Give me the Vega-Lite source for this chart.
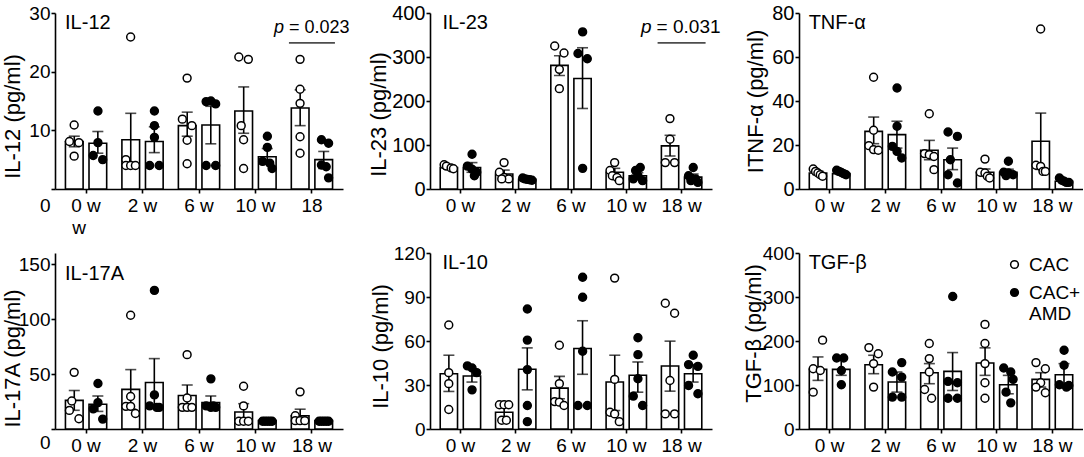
{
  "$schema": "https://vega.github.io/schema/vega-lite/v6.json",
  "background": "white",
  "padding": {"left": 1, "top": 3, "right": 0, "bottom": 0},
  "config": {
    "font": "Liberation Sans",
    "view": {"stroke": null},
    "axis": {"grid": false, "domainColor": "black", "domainWidth": 1.6, "tickColor": "black", "tickWidth": 1.6, "tickSize": 4,
      "labelColor": "black", "labelFontSize": 19, "titleFontSize": 22, "titleFontWeight": "normal", "titleColor": "black"},
    "axisX": {"labelAngle": 0, "labelPadding": 3},
    "axisY": {"labelPadding": 1},
    "text": {"color": "black"}
  },
  "datasets": {
    "bars": [
      {"p":"IL-12","w":"0 w","g":"CAC","m":8.1,"lo":7.2,"hi":9.0},
      {"p":"IL-12","w":"0 w","g":"CAC+AMD","m":7.8,"lo":6.1,"hi":9.8},
      {"p":"IL-12","w":"2 w","g":"CAC","m":8.4,"lo":4.0,"hi":12.9},
      {"p":"IL-12","w":"2 w","g":"CAC+AMD","m":8.1,"lo":6.2,"hi":10.6},
      {"p":"IL-12","w":"6 w","g":"CAC","m":10.8,"lo":9.0,"hi":13.1},
      {"p":"IL-12","w":"6 w","g":"CAC+AMD","m":10.9,"lo":7.7,"hi":14.1},
      {"p":"IL-12","w":"10 w","g":"CAC","m":13.3,"lo":9.5,"hi":17.4},
      {"p":"IL-12","w":"10 w","g":"CAC+AMD","m":5.5,"lo":4.5,"hi":6.9},
      {"p":"IL-12","w":"18 w","g":"CAC","m":13.8,"lo":10.8,"hi":16.9},
      {"p":"IL-12","w":"18 w","g":"CAC+AMD","m":5.0,"lo":3.5,"hi":6.4},
      {"p":"IL-23","w":"0 w","g":"CAC","m":49,"lo":45,"hi":53},
      {"p":"IL-23","w":"0 w","g":"CAC+AMD","m":49,"lo":38,"hi":60},
      {"p":"IL-23","w":"2 w","g":"CAC","m":34,"lo":25,"hi":43},
      {"p":"IL-23","w":"2 w","g":"CAC+AMD","m":22,"lo":20,"hi":24},
      {"p":"IL-23","w":"6 w","g":"CAC","m":281,"lo":258,"hi":303},
      {"p":"IL-23","w":"6 w","g":"CAC+AMD","m":251,"lo":183,"hi":321},
      {"p":"IL-23","w":"10 w","g":"CAC","m":38,"lo":27,"hi":47},
      {"p":"IL-23","w":"10 w","g":"CAC+AMD","m":30,"lo":22,"hi":37},
      {"p":"IL-23","w":"18 w","g":"CAC","m":98,"lo":75,"hi":122},
      {"p":"IL-23","w":"18 w","g":"CAC+AMD","m":27,"lo":20,"hi":34},
      {"p":"TNF","w":"0 w","g":"CAC","m":7.3,"lo":6.5,"hi":8.1},
      {"p":"TNF","w":"0 w","g":"CAC+AMD","m":7.0,"lo":6.5,"hi":7.5},
      {"p":"TNF","w":"2 w","g":"CAC","m":26.2,"lo":20.6,"hi":32.7},
      {"p":"TNF","w":"2 w","g":"CAC+AMD","m":24.7,"lo":18.6,"hi":30.8},
      {"p":"TNF","w":"6 w","g":"CAC","m":17.6,"lo":13.3,"hi":22.1},
      {"p":"TNF","w":"6 w","g":"CAC+AMD","m":13.3,"lo":8.8,"hi":18.6},
      {"p":"TNF","w":"10 w","g":"CAC","m":7.6,"lo":5.8,"hi":9.1},
      {"p":"TNF","w":"10 w","g":"CAC+AMD","m":7.6,"lo":6.3,"hi":9.0},
      {"p":"TNF","w":"18 w","g":"CAC","m":21.7,"lo":8.9,"hi":34.5},
      {"p":"TNF","w":"18 w","g":"CAC+AMD","m":3.5,"lo":3.0,"hi":4.0},
      {"p":"IL-17A","w":"0 w","g":"CAC","m":26,"lo":17,"hi":35},
      {"p":"IL-17A","w":"0 w","g":"CAC+AMD","m":22.5,"lo":16,"hi":30},
      {"p":"IL-17A","w":"2 w","g":"CAC","m":36,"lo":18,"hi":54},
      {"p":"IL-17A","w":"2 w","g":"CAC+AMD","m":42.3,"lo":20,"hi":64},
      {"p":"IL-17A","w":"6 w","g":"CAC","m":30.4,"lo":21,"hi":40},
      {"p":"IL-17A","w":"6 w","g":"CAC+AMD","m":24,"lo":18,"hi":30},
      {"p":"IL-17A","w":"10 w","g":"CAC","m":15.5,"lo":8,"hi":23},
      {"p":"IL-17A","w":"10 w","g":"CAC+AMD","m":7.6,"lo":7.2,"hi":8.0},
      {"p":"IL-17A","w":"18 w","g":"CAC","m":12,"lo":6,"hi":18},
      {"p":"IL-17A","w":"18 w","g":"CAC+AMD","m":7.6,"lo":7.2,"hi":8.0},
      {"p":"IL-10","w":"0 w","g":"CAC","m":37.7,"lo":25.6,"hi":50.3},
      {"p":"IL-10","w":"0 w","g":"CAC+AMD","m":36.1,"lo":32,"hi":41},
      {"p":"IL-10","w":"2 w","g":"CAC","m":11.4,"lo":5.7,"hi":17},
      {"p":"IL-10","w":"2 w","g":"CAC+AMD","m":40.7,"lo":26.7,"hi":55.3},
      {"p":"IL-10","w":"6 w","g":"CAC","m":27.9,"lo":20.6,"hi":35.9},
      {"p":"IL-10","w":"6 w","g":"CAC+AMD","m":54.9,"lo":37.3,"hi":73.8},
      {"p":"IL-10","w":"10 w","g":"CAC","m":32,"lo":12.6,"hi":50.3},
      {"p":"IL-10","w":"10 w","g":"CAC+AMD","m":36.6,"lo":25.1,"hi":45.7},
      {"p":"IL-10","w":"18 w","g":"CAC","m":43,"lo":25.8,"hi":59.9},
      {"p":"IL-10","w":"18 w","g":"CAC+AMD","m":37.7,"lo":32,"hi":43.9},
      {"p":"TGF","w":"0 w","g":"CAC","m":135.6,"lo":110.5,"hi":163.8},
      {"p":"TGF","w":"0 w","g":"CAC+AMD","m":135.6,"lo":122,"hi":160},
      {"p":"TGF","w":"2 w","g":"CAC","m":146,"lo":125.7,"hi":167.6},
      {"p":"TGF","w":"2 w","g":"CAC+AMD","m":106.7,"lo":83.8,"hi":129.5},
      {"p":"TGF","w":"6 w","g":"CAC","m":128,"lo":102.9,"hi":148.6},
      {"p":"TGF","w":"6 w","g":"CAC+AMD","m":131,"lo":87.6,"hi":173.7},
      {"p":"TGF","w":"10 w","g":"CAC","m":150,"lo":121.9,"hi":184.4},
      {"p":"TGF","w":"10 w","g":"CAC+AMD","m":100.6,"lo":80,"hi":121.9},
      {"p":"TGF","w":"18 w","g":"CAC","m":112.8,"lo":95.2,"hi":128},
      {"p":"TGF","w":"18 w","g":"CAC+AMD","m":123.4,"lo":105,"hi":148.6}
    ],
    "pts": [
      {"p":"IL-12","w":"0 w","g":"CAC","r":"c3","v":10.9},{"p":"IL-12","w":"0 w","g":"CAC","r":"c1","v":8.1},{"p":"IL-12","w":"0 w","g":"CAC","r":"c5","v":7.9},{"p":"IL-12","w":"0 w","g":"CAC","r":"c3","v":5.6},
      {"p":"IL-12","w":"0 w","g":"CAC+AMD","r":"a3","v":13.3},{"p":"IL-12","w":"0 w","g":"CAC+AMD","r":"a3","v":7.9},{"p":"IL-12","w":"0 w","g":"CAC+AMD","r":"a1","v":5.7},{"p":"IL-12","w":"0 w","g":"CAC+AMD","r":"a5","v":5.0},
      {"p":"IL-12","w":"2 w","g":"CAC","r":"c3","v":25.9},{"p":"IL-12","w":"2 w","g":"CAC","r":"c1","v":5.0},{"p":"IL-12","w":"2 w","g":"CAC","r":"c1","v":4.0},{"p":"IL-12","w":"2 w","g":"CAC","r":"c3","v":4.0},{"p":"IL-12","w":"2 w","g":"CAC","r":"c5","v":4.0},
      {"p":"IL-12","w":"2 w","g":"CAC+AMD","r":"a3","v":13.3},{"p":"IL-12","w":"2 w","g":"CAC+AMD","r":"a3","v":10.8},{"p":"IL-12","w":"2 w","g":"CAC+AMD","r":"a3","v":8.8},{"p":"IL-12","w":"2 w","g":"CAC+AMD","r":"a1","v":4.0},{"p":"IL-12","w":"2 w","g":"CAC+AMD","r":"a5","v":4.0},
      {"p":"IL-12","w":"6 w","g":"CAC","r":"c3","v":18.9},{"p":"IL-12","w":"6 w","g":"CAC","r":"c1","v":11.9},{"p":"IL-12","w":"6 w","g":"CAC","r":"c5","v":10.8},{"p":"IL-12","w":"6 w","g":"CAC","r":"c3","v":8.3},{"p":"IL-12","w":"6 w","g":"CAC","r":"c3","v":4.3},
      {"p":"IL-12","w":"6 w","g":"CAC+AMD","r":"a1","v":14.9},{"p":"IL-12","w":"6 w","g":"CAC+AMD","r":"a3","v":15.0},{"p":"IL-12","w":"6 w","g":"CAC+AMD","r":"a5","v":14.5},{"p":"IL-12","w":"6 w","g":"CAC+AMD","r":"a1","v":4.0},{"p":"IL-12","w":"6 w","g":"CAC+AMD","r":"a5","v":4.0},
      {"p":"IL-12","w":"10 w","g":"CAC","r":"c1","v":22.5},{"p":"IL-12","w":"10 w","g":"CAC","r":"c5","v":22.1},{"p":"IL-12","w":"10 w","g":"CAC","r":"c2","v":10.8},{"p":"IL-12","w":"10 w","g":"CAC","r":"c3","v":8.4},{"p":"IL-12","w":"10 w","g":"CAC","r":"c3","v":3.5},
      {"p":"IL-12","w":"10 w","g":"CAC+AMD","r":"a3","v":9.0},{"p":"IL-12","w":"10 w","g":"CAC+AMD","r":"a3","v":7.1},{"p":"IL-12","w":"10 w","g":"CAC+AMD","r":"a1","v":4.7},{"p":"IL-12","w":"10 w","g":"CAC+AMD","r":"a4","v":4.4},{"p":"IL-12","w":"10 w","g":"CAC+AMD","r":"a5","v":3.5},
      {"p":"IL-12","w":"18 w","g":"CAC","r":"c3","v":22.1},{"p":"IL-12","w":"18 w","g":"CAC","r":"c3","v":17.0},{"p":"IL-12","w":"18 w","g":"CAC","r":"c3","v":14.6},{"p":"IL-12","w":"18 w","g":"CAC","r":"c3","v":8.9},{"p":"IL-12","w":"18 w","g":"CAC","r":"c3","v":6.1},
      {"p":"IL-12","w":"18 w","g":"CAC+AMD","r":"a2","v":8.4},{"p":"IL-12","w":"18 w","g":"CAC+AMD","r":"a5","v":7.8},{"p":"IL-12","w":"18 w","g":"CAC+AMD","r":"a2","v":4.1},{"p":"IL-12","w":"18 w","g":"CAC+AMD","r":"a4","v":3.8},{"p":"IL-12","w":"18 w","g":"CAC+AMD","r":"a5","v":1.9},

      {"p":"IL-23","w":"0 w","g":"CAC","r":"c1","v":55},{"p":"IL-23","w":"0 w","g":"CAC","r":"c2","v":52},{"p":"IL-23","w":"0 w","g":"CAC","r":"c4","v":48},{"p":"IL-23","w":"0 w","g":"CAC","r":"c5","v":46},
      {"p":"IL-23","w":"0 w","g":"CAC+AMD","r":"a3","v":79},{"p":"IL-23","w":"0 w","g":"CAC+AMD","r":"a1","v":52},{"p":"IL-23","w":"0 w","g":"CAC+AMD","r":"a3","v":45},{"p":"IL-23","w":"0 w","g":"CAC+AMD","r":"a5","v":38},{"p":"IL-23","w":"0 w","g":"CAC+AMD","r":"a4","v":30},
      {"p":"IL-23","w":"2 w","g":"CAC","r":"c3","v":60},{"p":"IL-23","w":"2 w","g":"CAC","r":"c1","v":38},{"p":"IL-23","w":"2 w","g":"CAC","r":"c3","v":26},{"p":"IL-23","w":"2 w","g":"CAC","r":"c5","v":23},{"p":"IL-23","w":"2 w","g":"CAC","r":"c2","v":23},
      {"p":"IL-23","w":"2 w","g":"CAC+AMD","r":"a1","v":25},{"p":"IL-23","w":"2 w","g":"CAC+AMD","r":"a2","v":23},{"p":"IL-23","w":"2 w","g":"CAC+AMD","r":"a3","v":22},{"p":"IL-23","w":"2 w","g":"CAC+AMD","r":"a4","v":21},{"p":"IL-23","w":"2 w","g":"CAC+AMD","r":"a5","v":20},
      {"p":"IL-23","w":"6 w","g":"CAC","r":"c1","v":325},{"p":"IL-23","w":"6 w","g":"CAC","r":"c5","v":309},{"p":"IL-23","w":"6 w","g":"CAC","r":"c3","v":272},{"p":"IL-23","w":"6 w","g":"CAC","r":"c3","v":228},
      {"p":"IL-23","w":"6 w","g":"CAC+AMD","r":"a3","v":357},{"p":"IL-23","w":"6 w","g":"CAC+AMD","r":"a1","v":308},{"p":"IL-23","w":"6 w","g":"CAC+AMD","r":"a5","v":296},{"p":"IL-23","w":"6 w","g":"CAC+AMD","r":"a3","v":47},
      {"p":"IL-23","w":"10 w","g":"CAC","r":"c3","v":60},{"p":"IL-23","w":"10 w","g":"CAC","r":"c1","v":42},{"p":"IL-23","w":"10 w","g":"CAC","r":"c2","v":30},{"p":"IL-23","w":"10 w","g":"CAC","r":"c4","v":26},{"p":"IL-23","w":"10 w","g":"CAC","r":"c5","v":19},
      {"p":"IL-23","w":"10 w","g":"CAC+AMD","r":"a4","v":49},{"p":"IL-23","w":"10 w","g":"CAC+AMD","r":"a2","v":42},{"p":"IL-23","w":"10 w","g":"CAC+AMD","r":"a3","v":30},{"p":"IL-23","w":"10 w","g":"CAC+AMD","r":"a1","v":23},{"p":"IL-23","w":"10 w","g":"CAC+AMD","r":"a5","v":19},
      {"p":"IL-23","w":"18 w","g":"CAC","r":"c3","v":160},{"p":"IL-23","w":"18 w","g":"CAC","r":"c3","v":113},{"p":"IL-23","w":"18 w","g":"CAC","r":"c1","v":60},{"p":"IL-23","w":"18 w","g":"CAC","r":"c5","v":60},
      {"p":"IL-23","w":"18 w","g":"CAC+AMD","r":"a3","v":49},{"p":"IL-23","w":"18 w","g":"CAC+AMD","r":"a1","v":30},{"p":"IL-23","w":"18 w","g":"CAC+AMD","r":"a4","v":23},{"p":"IL-23","w":"18 w","g":"CAC+AMD","r":"a2","v":19},{"p":"IL-23","w":"18 w","g":"CAC+AMD","r":"a5","v":15},

      {"p":"TNF","w":"0 w","g":"CAC","r":"c1","v":9.1},{"p":"TNF","w":"0 w","g":"CAC","r":"c2","v":8.0},{"p":"TNF","w":"0 w","g":"CAC","r":"c3","v":7.3},{"p":"TNF","w":"0 w","g":"CAC","r":"c4","v":6.5},{"p":"TNF","w":"0 w","g":"CAC","r":"c5","v":5.8},
      {"p":"TNF","w":"0 w","g":"CAC+AMD","r":"a1","v":8.5},{"p":"TNF","w":"0 w","g":"CAC+AMD","r":"a2","v":8.0},{"p":"TNF","w":"0 w","g":"CAC+AMD","r":"a3","v":7.5},{"p":"TNF","w":"0 w","g":"CAC+AMD","r":"a4","v":7.0},{"p":"TNF","w":"0 w","g":"CAC+AMD","r":"a5","v":6.5},
      {"p":"TNF","w":"2 w","g":"CAC","r":"c3","v":50.8},{"p":"TNF","w":"2 w","g":"CAC","r":"c3","v":26.7},{"p":"TNF","w":"2 w","g":"CAC","r":"c1","v":19.7},{"p":"TNF","w":"2 w","g":"CAC","r":"c3","v":17.9},{"p":"TNF","w":"2 w","g":"CAC","r":"c5","v":17.6},
      {"p":"TNF","w":"2 w","g":"CAC+AMD","r":"a3","v":45.9},{"p":"TNF","w":"2 w","g":"CAC+AMD","r":"a3","v":28.5},{"p":"TNF","w":"2 w","g":"CAC+AMD","r":"a1","v":19.4},{"p":"TNF","w":"2 w","g":"CAC+AMD","r":"a3","v":17.1},{"p":"TNF","w":"2 w","g":"CAC+AMD","r":"a5","v":14.1},
      {"p":"TNF","w":"6 w","g":"CAC","r":"c3","v":34.2},{"p":"TNF","w":"6 w","g":"CAC","r":"c1","v":16.1},{"p":"TNF","w":"6 w","g":"CAC","r":"c3","v":15.6},{"p":"TNF","w":"6 w","g":"CAC","r":"c5","v":14.8},{"p":"TNF","w":"6 w","g":"CAC","r":"c5","v":8.8},
      {"p":"TNF","w":"6 w","g":"CAC+AMD","r":"a1","v":25.9},{"p":"TNF","w":"6 w","g":"CAC+AMD","r":"a5","v":23.9},{"p":"TNF","w":"6 w","g":"CAC+AMD","r":"a2","v":13.3},{"p":"TNF","w":"6 w","g":"CAC+AMD","r":"a1","v":6.5},{"p":"TNF","w":"6 w","g":"CAC+AMD","r":"a5","v":2.7},
      {"p":"TNF","w":"10 w","g":"CAC","r":"c3","v":13.6},{"p":"TNF","w":"10 w","g":"CAC","r":"c1","v":7.6},{"p":"TNF","w":"10 w","g":"CAC","r":"c3","v":7.3},{"p":"TNF","w":"10 w","g":"CAC","r":"c4","v":5.8},{"p":"TNF","w":"10 w","g":"CAC","r":"c5","v":5.0},
      {"p":"TNF","w":"10 w","g":"CAC+AMD","r":"a3","v":12.6},{"p":"TNF","w":"10 w","g":"CAC+AMD","r":"a1","v":7.6},{"p":"TNF","w":"10 w","g":"CAC+AMD","r":"a3","v":7.3},{"p":"TNF","w":"10 w","g":"CAC+AMD","r":"a5","v":6.5},{"p":"TNF","w":"10 w","g":"CAC+AMD","r":"a2","v":6.1},
      {"p":"TNF","w":"18 w","g":"CAC","r":"c3","v":72.7},{"p":"TNF","w":"18 w","g":"CAC","r":"c1","v":10.8},{"p":"TNF","w":"18 w","g":"CAC","r":"c3","v":10.3},{"p":"TNF","w":"18 w","g":"CAC","r":"c4","v":8.0},{"p":"TNF","w":"18 w","g":"CAC","r":"c5","v":8.0},
      {"p":"TNF","w":"18 w","g":"CAC+AMD","r":"a1","v":5.0},{"p":"TNF","w":"18 w","g":"CAC+AMD","r":"a2","v":4.0},{"p":"TNF","w":"18 w","g":"CAC+AMD","r":"a3","v":3.5},{"p":"TNF","w":"18 w","g":"CAC+AMD","r":"a4","v":3.0},{"p":"TNF","w":"18 w","g":"CAC+AMD","r":"a5","v":3.0},

      {"p":"IL-17A","w":"0 w","g":"CAC","r":"c3","v":51.5},{"p":"IL-17A","w":"0 w","g":"CAC","r":"c2","v":25.4},{"p":"IL-17A","w":"0 w","g":"CAC","r":"c1","v":16.9},{"p":"IL-17A","w":"0 w","g":"CAC","r":"c5","v":9.3},
      {"p":"IL-17A","w":"0 w","g":"CAC+AMD","r":"a3","v":41.4},{"p":"IL-17A","w":"0 w","g":"CAC+AMD","r":"a3","v":24},{"p":"IL-17A","w":"0 w","g":"CAC+AMD","r":"a1","v":18.3},{"p":"IL-17A","w":"0 w","g":"CAC+AMD","r":"a5","v":9},
      {"p":"IL-17A","w":"2 w","g":"CAC","r":"c3","v":103.4},{"p":"IL-17A","w":"2 w","g":"CAC","r":"c3","v":29.6},{"p":"IL-17A","w":"2 w","g":"CAC","r":"c1","v":20.6},{"p":"IL-17A","w":"2 w","g":"CAC","r":"c3","v":20.6},{"p":"IL-17A","w":"2 w","g":"CAC","r":"c5","v":14.1},
      {"p":"IL-17A","w":"2 w","g":"CAC+AMD","r":"a3","v":126},{"p":"IL-17A","w":"2 w","g":"CAC+AMD","r":"a3","v":31},{"p":"IL-17A","w":"2 w","g":"CAC+AMD","r":"a1","v":21},{"p":"IL-17A","w":"2 w","g":"CAC+AMD","r":"a4","v":19.7},{"p":"IL-17A","w":"2 w","g":"CAC+AMD","r":"a5","v":19.7},
      {"p":"IL-17A","w":"6 w","g":"CAC","r":"c3","v":67.6},{"p":"IL-17A","w":"6 w","g":"CAC","r":"c3","v":28.2},{"p":"IL-17A","w":"6 w","g":"CAC","r":"c1","v":19.7},{"p":"IL-17A","w":"6 w","g":"CAC","r":"c3","v":19.7},{"p":"IL-17A","w":"6 w","g":"CAC","r":"c5","v":19.7},
      {"p":"IL-17A","w":"6 w","g":"CAC+AMD","r":"a3","v":45.6},{"p":"IL-17A","w":"6 w","g":"CAC+AMD","r":"a1","v":21},{"p":"IL-17A","w":"6 w","g":"CAC+AMD","r":"a3","v":19.7},{"p":"IL-17A","w":"6 w","g":"CAC+AMD","r":"a5","v":19.7},{"p":"IL-17A","w":"6 w","g":"CAC+AMD","r":"a4","v":21},
      {"p":"IL-17A","w":"10 w","g":"CAC","r":"c3","v":38.9},{"p":"IL-17A","w":"10 w","g":"CAC","r":"c3","v":21},{"p":"IL-17A","w":"10 w","g":"CAC","r":"c1","v":7},{"p":"IL-17A","w":"10 w","g":"CAC","r":"c3","v":7},{"p":"IL-17A","w":"10 w","g":"CAC","r":"c5","v":7},
      {"p":"IL-17A","w":"10 w","g":"CAC+AMD","r":"a1","v":7},{"p":"IL-17A","w":"10 w","g":"CAC+AMD","r":"a2","v":7},{"p":"IL-17A","w":"10 w","g":"CAC+AMD","r":"a3","v":7},{"p":"IL-17A","w":"10 w","g":"CAC+AMD","r":"a4","v":7},{"p":"IL-17A","w":"10 w","g":"CAC+AMD","r":"a5","v":7},
      {"p":"IL-17A","w":"18 w","g":"CAC","r":"c3","v":33.8},{"p":"IL-17A","w":"18 w","g":"CAC","r":"c1","v":12},{"p":"IL-17A","w":"18 w","g":"CAC","r":"c1","v":7.6},{"p":"IL-17A","w":"18 w","g":"CAC","r":"c3","v":7.6},{"p":"IL-17A","w":"18 w","g":"CAC","r":"c5","v":7.6},
      {"p":"IL-17A","w":"18 w","g":"CAC+AMD","r":"a1","v":7},{"p":"IL-17A","w":"18 w","g":"CAC+AMD","r":"a2","v":7},{"p":"IL-17A","w":"18 w","g":"CAC+AMD","r":"a3","v":7},{"p":"IL-17A","w":"18 w","g":"CAC+AMD","r":"a4","v":7},{"p":"IL-17A","w":"18 w","g":"CAC+AMD","r":"a5","v":7},

      {"p":"IL-10","w":"0 w","g":"CAC","r":"c3","v":70.9},{"p":"IL-10","w":"0 w","g":"CAC","r":"c3","v":38.4},{"p":"IL-10","w":"0 w","g":"CAC","r":"c3","v":30.9},{"p":"IL-10","w":"0 w","g":"CAC","r":"c3","v":13.3},
      {"p":"IL-10","w":"0 w","g":"CAC+AMD","r":"a1","v":43},{"p":"IL-10","w":"0 w","g":"CAC+AMD","r":"a3","v":41.6},{"p":"IL-10","w":"0 w","g":"CAC+AMD","r":"a5","v":38.4},{"p":"IL-10","w":"0 w","g":"CAC+AMD","r":"a3","v":26.7},
      {"p":"IL-10","w":"2 w","g":"CAC","r":"c1","v":16.5},{"p":"IL-10","w":"2 w","g":"CAC","r":"c3","v":16.5},{"p":"IL-10","w":"2 w","g":"CAC","r":"c5","v":16.5},{"p":"IL-10","w":"2 w","g":"CAC","r":"c2","v":6},{"p":"IL-10","w":"2 w","g":"CAC","r":"c4","v":6},
      {"p":"IL-10","w":"2 w","g":"CAC+AMD","r":"a3","v":81.8},{"p":"IL-10","w":"2 w","g":"CAC+AMD","r":"a3","v":60.6},{"p":"IL-10","w":"2 w","g":"CAC+AMD","r":"a3","v":40.5},{"p":"IL-10","w":"2 w","g":"CAC+AMD","r":"a3","v":16},{"p":"IL-10","w":"2 w","g":"CAC+AMD","r":"a3","v":5},
      {"p":"IL-10","w":"6 w","g":"CAC","r":"c3","v":57.1},{"p":"IL-10","w":"6 w","g":"CAC","r":"c3","v":30.9},{"p":"IL-10","w":"6 w","g":"CAC","r":"c1","v":18.7},{"p":"IL-10","w":"6 w","g":"CAC","r":"c3","v":18.3},{"p":"IL-10","w":"6 w","g":"CAC","r":"c5","v":16},
      {"p":"IL-10","w":"6 w","g":"CAC+AMD","r":"a3","v":103.5},{"p":"IL-10","w":"6 w","g":"CAC+AMD","r":"a3","v":89.8},{"p":"IL-10","w":"6 w","g":"CAC+AMD","r":"a3","v":53},{"p":"IL-10","w":"6 w","g":"CAC+AMD","r":"a1","v":16},{"p":"IL-10","w":"6 w","g":"CAC+AMD","r":"a5","v":16},
      {"p":"IL-10","w":"10 w","g":"CAC","r":"c3","v":102.9},{"p":"IL-10","w":"10 w","g":"CAC","r":"c3","v":33.8},{"p":"IL-10","w":"10 w","g":"CAC","r":"c1","v":11.4},{"p":"IL-10","w":"10 w","g":"CAC","r":"c3","v":10.3},{"p":"IL-10","w":"10 w","g":"CAC","r":"c5","v":5},
      {"p":"IL-10","w":"10 w","g":"CAC+AMD","r":"a3","v":62.2},{"p":"IL-10","w":"10 w","g":"CAC+AMD","r":"a3","v":50.7},{"p":"IL-10","w":"10 w","g":"CAC+AMD","r":"a3","v":34.3},{"p":"IL-10","w":"10 w","g":"CAC+AMD","r":"a1","v":22.4},{"p":"IL-10","w":"10 w","g":"CAC+AMD","r":"a5","v":16},
      {"p":"IL-10","w":"18 w","g":"CAC","r":"c1","v":85.7},{"p":"IL-10","w":"18 w","g":"CAC","r":"c5","v":78.9},{"p":"IL-10","w":"18 w","g":"CAC","r":"c3","v":33.1},{"p":"IL-10","w":"18 w","g":"CAC","r":"c1","v":10.3},{"p":"IL-10","w":"18 w","g":"CAC","r":"c5","v":10.3},
      {"p":"IL-10","w":"18 w","g":"CAC+AMD","r":"a3","v":50.3},{"p":"IL-10","w":"18 w","g":"CAC+AMD","r":"a1","v":43.9},{"p":"IL-10","w":"18 w","g":"CAC+AMD","r":"a5","v":42.7},{"p":"IL-10","w":"18 w","g":"CAC+AMD","r":"a1","v":29.7},{"p":"IL-10","w":"18 w","g":"CAC+AMD","r":"a5","v":24},

      {"p":"TGF","w":"0 w","g":"CAC","r":"c5","v":201.9},{"p":"TGF","w":"0 w","g":"CAC","r":"c1","v":137},{"p":"TGF","w":"0 w","g":"CAC","r":"c4","v":133},{"p":"TGF","w":"0 w","g":"CAC","r":"c1","v":83.8},
      {"p":"TGF","w":"0 w","g":"CAC+AMD","r":"a1","v":161.5},{"p":"TGF","w":"0 w","g":"CAC+AMD","r":"a4","v":161.5},{"p":"TGF","w":"0 w","g":"CAC+AMD","r":"a3","v":133},{"p":"TGF","w":"0 w","g":"CAC+AMD","r":"a3","v":100.6},
      {"p":"TGF","w":"2 w","g":"CAC","r":"c1","v":185},{"p":"TGF","w":"2 w","g":"CAC","r":"c5","v":171},{"p":"TGF","w":"2 w","g":"CAC","r":"c3","v":148.6},{"p":"TGF","w":"2 w","g":"CAC","r":"c3","v":95.2},
      {"p":"TGF","w":"2 w","g":"CAC+AMD","r":"a5","v":150.9},{"p":"TGF","w":"2 w","g":"CAC+AMD","r":"a1","v":129.5},{"p":"TGF","w":"2 w","g":"CAC+AMD","r":"a5","v":118},{"p":"TGF","w":"2 w","g":"CAC+AMD","r":"a1","v":72.4},{"p":"TGF","w":"2 w","g":"CAC+AMD","r":"a5","v":72.4},
      {"p":"TGF","w":"6 w","g":"CAC","r":"c3","v":194.3},{"p":"TGF","w":"6 w","g":"CAC","r":"c3","v":160},{"p":"TGF","w":"6 w","g":"CAC","r":"c3","v":129.5},{"p":"TGF","w":"6 w","g":"CAC","r":"c1","v":89.9},{"p":"TGF","w":"6 w","g":"CAC","r":"c4","v":70},
      {"p":"TGF","w":"6 w","g":"CAC+AMD","r":"a3","v":301},{"p":"TGF","w":"6 w","g":"CAC+AMD","r":"a1","v":108.2},{"p":"TGF","w":"6 w","g":"CAC+AMD","r":"a5","v":105.1},{"p":"TGF","w":"6 w","g":"CAC+AMD","r":"a1","v":70},{"p":"TGF","w":"6 w","g":"CAC+AMD","r":"a5","v":70},
      {"p":"TGF","w":"10 w","g":"CAC","r":"c3","v":237.7},{"p":"TGF","w":"10 w","g":"CAC","r":"c3","v":194.3},{"p":"TGF","w":"10 w","g":"CAC","r":"c3","v":148.6},{"p":"TGF","w":"10 w","g":"CAC","r":"c3","v":105.1},{"p":"TGF","w":"10 w","g":"CAC","r":"c3","v":70},
      {"p":"TGF","w":"10 w","g":"CAC+AMD","r":"a1","v":138.7},{"p":"TGF","w":"10 w","g":"CAC+AMD","r":"a4","v":129.5},{"p":"TGF","w":"10 w","g":"CAC+AMD","r":"a5","v":112.8},{"p":"TGF","w":"10 w","g":"CAC+AMD","r":"a2","v":83.8},{"p":"TGF","w":"10 w","g":"CAC+AMD","r":"a4","v":59.4},
      {"p":"TGF","w":"18 w","g":"CAC","r":"c1","v":150.9},{"p":"TGF","w":"18 w","g":"CAC","r":"c5","v":137},{"p":"TGF","w":"18 w","g":"CAC","r":"c3","v":105.1},{"p":"TGF","w":"18 w","g":"CAC","r":"c1","v":95.2},{"p":"TGF","w":"18 w","g":"CAC","r":"c5","v":82.3},
      {"p":"TGF","w":"18 w","g":"CAC+AMD","r":"a3","v":179},{"p":"TGF","w":"18 w","g":"CAC+AMD","r":"a3","v":144.8},{"p":"TGF","w":"18 w","g":"CAC+AMD","r":"a1","v":100.6},{"p":"TGF","w":"18 w","g":"CAC+AMD","r":"a4","v":95.2},{"p":"TGF","w":"18 w","g":"CAC+AMD","r":"a5","v":99}
    ],
    "notes": [
      {"p":"IL-12","k":"label","t":"IL-12"},
      {"p":"IL-23","k":"label","t":"IL-23"},
      {"p":"TNF","k":"label","t":"TNF-α"},
      {"p":"IL-17A","k":"label","t":"IL-17A"},
      {"p":"IL-10","k":"label","t":"IL-10"},
      {"p":"TGF","k":"label","t":"TGF-β"},
      {"p":"IL-12","k":"wrap","t":"w"},
      {"p":"IL-12","k":"pval","w":"18 w","y":24.9,"t":"= 0.023"},
      {"p":"IL-23","k":"pval","w":"18 w","y":332,"t":"= 0.031"}
    ]
  },
  "columns": 3,
  "bounds": "flush",
  "spacing": {"row": 64, "column": 87},
  "resolve": {"scale": {"xOffset": "independent", "fill": "independent", "y": "independent"}, "legend": {"fill": "independent"}},
  "concat": [
    {
      "width": 288, "height": 176,
      "resolve": {"scale": {"xOffset": "independent"}},
      "layer": [
        {"data": {"name": "bars"}, "transform": [{"filter": "datum.p == 'IL-12'"}],
         "mark": {"type": "bar", "fill": "white", "stroke": "black", "strokeWidth": 1.6},
         "encoding": {
           "x": {"field": "w", "type": "nominal", "title": null, "scale": {"domain": ["0 w","2 w","6 w","10 w","18 w"], "paddingInner": 0, "paddingOuter": 0.05},
                 "axis": {"labelExpr": "datum.label == '18 w' ? '18' : datum.label"}},
           "xOffset": {"field": "g", "scale": {"domain": ["CAC","CAC+AMD"], "paddingInner": 0.25, "paddingOuter": 0.323}},
           "y": {"field": "m", "type": "quantitative", "title": "IL-12 (pg/ml)", "scale": {"domain": [0, 30]},
                 "axis": {"values": [0,10,20,30], "titleX": -31, "titleY": 103, "labelOffset": {"condition": {"test": "datum.value == 0", "value": 16}, "value": 0}}}
         }},
        {"data": {"name": "bars"}, "transform": [{"filter": "datum.p == 'IL-12'"}],
         "mark": {"type": "rule", "color": "black", "strokeWidth": 1.6},
         "encoding": {"x": {"field": "w", "type": "nominal"},
           "xOffset": {"field": "g", "scale": {"domain": ["CAC","CAC+AMD"], "paddingInner": 0.25, "paddingOuter": 0.323}},
           "y": {"field": "lo", "type": "quantitative"}, "y2": {"field": "hi"}}},
        {"data": {"name": "bars"}, "transform": [{"filter": "datum.p == 'IL-12'"}, {"fold": ["lo", "hi"], "as": ["end", "ev"]}],
         "mark": {"type": "tick", "color": "black", "size": 11, "thickness": 1.6},
         "encoding": {"x": {"field": "w", "type": "nominal"},
           "xOffset": {"field": "g", "scale": {"domain": ["CAC","CAC+AMD"], "paddingInner": 0.25, "paddingOuter": 0.323}},
           "y": {"field": "ev", "type": "quantitative"}}},
        {"data": {"name": "pts"}, "transform": [{"filter": "datum.p == 'IL-12'"}],
         "mark": {"type": "circle", "stroke": "black", "strokeWidth": 1.5, "size": 62, "opacity": 1},
         "encoding": {"x": {"field": "w", "type": "nominal"},
           "xOffset": {"field": "r", "scale": {"type": "band", "domain": ["e1","e2","e3","e4","c1","c2","c3","c4","c5","g1","g2","g3","g4","g5","a1","a2","a3","a4","a5","f1","f2","f3","f4"], "paddingInner": 0, "paddingOuter": 0.375}},
           "y": {"field": "v", "type": "quantitative"},
           "fill": {"field": "g", "type": "nominal", "scale": {"domain": ["CAC","CAC+AMD"], "range": ["white","black"]}, "legend": null}}},
        {"data": {"name": "notes"}, "transform": [{"filter": "datum.p == 'IL-12' && datum.k == 'label'"}],
         "mark": {"type": "text", "align": "left", "baseline": "alphabetic", "dx": -21, "dy": 16, "fontSize": 20},
         "encoding": {"x": {"datum": "0 w", "type": "nominal"}, "y": {"datum": 30, "type": "quantitative"}, "text": {"field": "t"}}},
        {"data": {"name": "notes"}, "transform": [{"filter": "datum.p == 'IL-12' && datum.k == 'wrap'"}],
         "mark": {"type": "text", "align": "center", "baseline": "middle", "dx": -7, "dy": 39, "fontSize": 19},
         "encoding": {"x": {"datum": "0 w", "type": "nominal"}, "y": {"datum": 0, "type": "quantitative"}, "text": {"field": "t"}}},
        {"data": {"name": "notes"}, "transform": [{"filter": "datum.p == 'IL-12' && datum.k == 'pval'"}],
         "mark": {"type": "tick", "color": "black", "size": 46, "thickness": 1.6},
         "encoding": {"x": {"field": "w", "type": "nominal"}, "y": {"field": "y", "type": "quantitative"}}},
        {"data": {"name": "notes"}, "transform": [{"filter": "datum.p == 'IL-12' && datum.k == 'pval'"}],
         "mark": {"type": "text", "align": "right", "baseline": "alphabetic", "dx": -28, "dy": -10, "fontSize": 18, "fontStyle": "italic"},
         "encoding": {"x": {"field": "w", "type": "nominal"}, "y": {"field": "y", "type": "quantitative"}, "text": {"value": "p"}}},
        {"data": {"name": "notes"}, "transform": [{"filter": "datum.p == 'IL-12' && datum.k == 'pval'"}],
         "mark": {"type": "text", "align": "left", "baseline": "alphabetic", "dx": -23, "dy": -10, "fontSize": 18},
         "encoding": {"x": {"field": "w", "type": "nominal"}, "y": {"field": "y", "type": "quantitative"}, "text": {"field": "t"}}}
      ]
    },
    {
      "width": 282, "height": 176,
      "resolve": {"scale": {"xOffset": "independent"}},
      "layer": [
        {"data": {"name": "bars"}, "transform": [{"filter": "datum.p == 'IL-23'"}],
         "mark": {"type": "bar", "fill": "white", "stroke": "black", "strokeWidth": 1.6},
         "encoding": {
           "x": {"field": "w", "type": "nominal", "title": null, "scale": {"domain": ["0 w","2 w","6 w","10 w","18 w"], "paddingInner": 0, "paddingOuter": 0.05}},
           "xOffset": {"field": "g", "scale": {"domain": ["CAC","CAC+AMD"], "paddingInner": 0.25, "paddingOuter": 0.323}},
           "y": {"field": "m", "type": "quantitative", "title": "IL-23 (pg/ml)", "scale": {"domain": [0, 400]},
                 "axis": {"values": [0,100,200,300,400], "titleX": -40, "titleY": 101, "labelFontSize": 20}}
         }},
        {"data": {"name": "bars"}, "transform": [{"filter": "datum.p == 'IL-23'"}],
         "mark": {"type": "rule", "color": "black", "strokeWidth": 1.6},
         "encoding": {"x": {"field": "w", "type": "nominal"},
           "xOffset": {"field": "g", "scale": {"domain": ["CAC","CAC+AMD"], "paddingInner": 0.25, "paddingOuter": 0.323}},
           "y": {"field": "lo", "type": "quantitative"}, "y2": {"field": "hi"}}},
        {"data": {"name": "bars"}, "transform": [{"filter": "datum.p == 'IL-23'"}, {"fold": ["lo", "hi"], "as": ["end", "ev"]}],
         "mark": {"type": "tick", "color": "black", "size": 11, "thickness": 1.6},
         "encoding": {"x": {"field": "w", "type": "nominal"},
           "xOffset": {"field": "g", "scale": {"domain": ["CAC","CAC+AMD"], "paddingInner": 0.25, "paddingOuter": 0.323}},
           "y": {"field": "ev", "type": "quantitative"}}},
        {"data": {"name": "pts"}, "transform": [{"filter": "datum.p == 'IL-23'"}],
         "mark": {"type": "circle", "stroke": "black", "strokeWidth": 1.5, "size": 62, "opacity": 1},
         "encoding": {"x": {"field": "w", "type": "nominal"},
           "xOffset": {"field": "r", "scale": {"type": "band", "domain": ["e1","e2","e3","e4","c1","c2","c3","c4","c5","g1","g2","g3","g4","g5","a1","a2","a3","a4","a5","f1","f2","f3","f4"], "paddingInner": 0, "paddingOuter": 0.375}},
           "y": {"field": "v", "type": "quantitative"},
           "fill": {"field": "g", "type": "nominal", "scale": {"domain": ["CAC","CAC+AMD"], "range": ["white","black"]}, "legend": null}}},
        {"data": {"name": "notes"}, "transform": [{"filter": "datum.p == 'IL-23' && datum.k == 'label'"}],
         "mark": {"type": "text", "align": "left", "baseline": "alphabetic", "dx": -18, "dy": 16, "fontSize": 20},
         "encoding": {"x": {"datum": "0 w", "type": "nominal"}, "y": {"datum": 400, "type": "quantitative"}, "text": {"field": "t"}}},
        {"data": {"name": "notes"}, "transform": [{"filter": "datum.p == 'IL-23' && datum.k == 'pval'"}],
         "mark": {"type": "tick", "color": "black", "size": 48, "thickness": 1.6},
         "encoding": {"x": {"field": "w", "type": "nominal"}, "y": {"field": "y", "type": "quantitative"}}},
        {"data": {"name": "notes"}, "transform": [{"filter": "datum.p == 'IL-23' && datum.k == 'pval'"}],
         "mark": {"type": "text", "align": "right", "baseline": "alphabetic", "dx": -30, "dy": -10, "fontSize": 19, "fontStyle": "italic"},
         "encoding": {"x": {"field": "w", "type": "nominal"}, "y": {"field": "y", "type": "quantitative"}, "text": {"value": "p"}}},
        {"data": {"name": "notes"}, "transform": [{"filter": "datum.p == 'IL-23' && datum.k == 'pval'"}],
         "mark": {"type": "text", "align": "left", "baseline": "alphabetic", "dx": -25, "dy": -10, "fontSize": 19},
         "encoding": {"x": {"field": "w", "type": "nominal"}, "y": {"field": "y", "type": "quantitative"}, "text": {"field": "t"}}}
      ]
    },
    {
      "width": 284, "height": 176,
      "resolve": {"scale": {"xOffset": "independent"}},
      "layer": [
        {"data": {"name": "bars"}, "transform": [{"filter": "datum.p == 'TNF'"}],
         "mark": {"type": "bar", "fill": "white", "stroke": "black", "strokeWidth": 1.6},
         "encoding": {
           "x": {"field": "w", "type": "nominal", "title": null, "scale": {"domain": ["0 w","2 w","6 w","10 w","18 w"], "paddingInner": 0, "paddingOuter": 0.05}},
           "xOffset": {"field": "g", "scale": {"domain": ["CAC","CAC+AMD"], "paddingInner": 0.25, "paddingOuter": 0.323}},
           "y": {"field": "m", "type": "quantitative", "title": "ITNF-α (pg/ml)", "scale": {"domain": [0, 80]},
                 "axis": {"values": [0,20,40,60,80], "titleX": -32, "labelFontSize": 20}}
         }},
        {"data": {"name": "bars"}, "transform": [{"filter": "datum.p == 'TNF'"}],
         "mark": {"type": "rule", "color": "black", "strokeWidth": 1.6},
         "encoding": {"x": {"field": "w", "type": "nominal"},
           "xOffset": {"field": "g", "scale": {"domain": ["CAC","CAC+AMD"], "paddingInner": 0.25, "paddingOuter": 0.323}},
           "y": {"field": "lo", "type": "quantitative"}, "y2": {"field": "hi"}}},
        {"data": {"name": "bars"}, "transform": [{"filter": "datum.p == 'TNF'"}, {"fold": ["lo", "hi"], "as": ["end", "ev"]}],
         "mark": {"type": "tick", "color": "black", "size": 11, "thickness": 1.6},
         "encoding": {"x": {"field": "w", "type": "nominal"},
           "xOffset": {"field": "g", "scale": {"domain": ["CAC","CAC+AMD"], "paddingInner": 0.25, "paddingOuter": 0.323}},
           "y": {"field": "ev", "type": "quantitative"}}},
        {"data": {"name": "pts"}, "transform": [{"filter": "datum.p == 'TNF'"}],
         "mark": {"type": "circle", "stroke": "black", "strokeWidth": 1.5, "size": 62, "opacity": 1},
         "encoding": {"x": {"field": "w", "type": "nominal"},
           "xOffset": {"field": "r", "scale": {"type": "band", "domain": ["e1","e2","e3","e4","c1","c2","c3","c4","c5","g1","g2","g3","g4","g5","a1","a2","a3","a4","a5","f1","f2","f3","f4"], "paddingInner": 0, "paddingOuter": 0.375}},
           "y": {"field": "v", "type": "quantitative"},
           "fill": {"field": "g", "type": "nominal", "scale": {"domain": ["CAC","CAC+AMD"], "range": ["white","black"]}, "legend": null}}},
        {"data": {"name": "notes"}, "transform": [{"filter": "datum.p == 'TNF' && datum.k == 'label'"}],
         "mark": {"type": "text", "align": "left", "baseline": "alphabetic", "dx": -21, "dy": 16, "fontSize": 20},
         "encoding": {"x": {"datum": "0 w", "type": "nominal"}, "y": {"datum": 80, "type": "quantitative"}, "text": {"field": "t"}}}
      ]
    },
    {
      "width": 288, "height": 176,
      "resolve": {"scale": {"xOffset": "independent"}},
      "layer": [
        {"data": {"name": "bars"}, "transform": [{"filter": "datum.p == 'IL-17A'"}],
         "mark": {"type": "bar", "fill": "white", "stroke": "black", "strokeWidth": 1.6},
         "encoding": {
           "x": {"field": "w", "type": "nominal", "title": null, "scale": {"domain": ["0 w","2 w","6 w","10 w","18 w"], "paddingInner": 0, "paddingOuter": 0.05}},
           "xOffset": {"field": "g", "scale": {"domain": ["CAC","CAC+AMD"], "paddingInner": 0.25, "paddingOuter": 0.323}},
           "y": {"field": "m", "type": "quantitative", "title": "IL-17A (pg/ml)", "scale": {"domain": [0, 150]},
                 "axis": {"values": [0,50,100,150], "titleX": -31, "titleY": 105, "labelOffset": {"condition": {"test": "datum.value == 0", "value": 13}, "value": 0}}}
         }},
        {"data": {"name": "bars"}, "transform": [{"filter": "datum.p == 'IL-17A'"}],
         "mark": {"type": "rule", "color": "black", "strokeWidth": 1.6},
         "encoding": {"x": {"field": "w", "type": "nominal"},
           "xOffset": {"field": "g", "scale": {"domain": ["CAC","CAC+AMD"], "paddingInner": 0.25, "paddingOuter": 0.323}},
           "y": {"field": "lo", "type": "quantitative"}, "y2": {"field": "hi"}}},
        {"data": {"name": "bars"}, "transform": [{"filter": "datum.p == 'IL-17A'"}, {"fold": ["lo", "hi"], "as": ["end", "ev"]}],
         "mark": {"type": "tick", "color": "black", "size": 11, "thickness": 1.6},
         "encoding": {"x": {"field": "w", "type": "nominal"},
           "xOffset": {"field": "g", "scale": {"domain": ["CAC","CAC+AMD"], "paddingInner": 0.25, "paddingOuter": 0.323}},
           "y": {"field": "ev", "type": "quantitative"}}},
        {"data": {"name": "pts"}, "transform": [{"filter": "datum.p == 'IL-17A'"}],
         "mark": {"type": "circle", "stroke": "black", "strokeWidth": 1.5, "size": 62, "opacity": 1},
         "encoding": {"x": {"field": "w", "type": "nominal"},
           "xOffset": {"field": "r", "scale": {"type": "band", "domain": ["e1","e2","e3","e4","c1","c2","c3","c4","c5","g1","g2","g3","g4","g5","a1","a2","a3","a4","a5","f1","f2","f3","f4"], "paddingInner": 0, "paddingOuter": 0.375}},
           "y": {"field": "v", "type": "quantitative"},
           "fill": {"field": "g", "type": "nominal", "scale": {"domain": ["CAC","CAC+AMD"], "range": ["white","black"]}, "legend": null}}},
        {"data": {"name": "notes"}, "transform": [{"filter": "datum.p == 'IL-17A' && datum.k == 'label'"}],
         "mark": {"type": "text", "align": "left", "baseline": "alphabetic", "dx": -21, "dy": 16, "fontSize": 20},
         "encoding": {"x": {"datum": "0 w", "type": "nominal"}, "y": {"datum": 150, "type": "quantitative"}, "text": {"field": "t"}}}
      ]
    },
    {
      "width": 282, "height": 176,
      "resolve": {"scale": {"xOffset": "independent"}},
      "layer": [
        {"data": {"name": "bars"}, "transform": [{"filter": "datum.p == 'IL-10'"}],
         "mark": {"type": "bar", "fill": "white", "stroke": "black", "strokeWidth": 1.6},
         "encoding": {
           "x": {"field": "w", "type": "nominal", "title": null, "scale": {"domain": ["0 w","2 w","6 w","10 w","18 w"], "paddingInner": 0, "paddingOuter": 0.05}},
           "xOffset": {"field": "g", "scale": {"domain": ["CAC","CAC+AMD"], "paddingInner": 0.25, "paddingOuter": 0.323}},
           "y": {"field": "m", "type": "quantitative", "title": "IL-10 (pg/ml)", "scale": {"domain": [0, 120]},
                 "axis": {"values": [0,30,60,90,120], "titleX": -38, "titleY": 93}}
         }},
        {"data": {"name": "bars"}, "transform": [{"filter": "datum.p == 'IL-10'"}],
         "mark": {"type": "rule", "color": "black", "strokeWidth": 1.6},
         "encoding": {"x": {"field": "w", "type": "nominal"},
           "xOffset": {"field": "g", "scale": {"domain": ["CAC","CAC+AMD"], "paddingInner": 0.25, "paddingOuter": 0.323}},
           "y": {"field": "lo", "type": "quantitative"}, "y2": {"field": "hi"}}},
        {"data": {"name": "bars"}, "transform": [{"filter": "datum.p == 'IL-10'"}, {"fold": ["lo", "hi"], "as": ["end", "ev"]}],
         "mark": {"type": "tick", "color": "black", "size": 11, "thickness": 1.6},
         "encoding": {"x": {"field": "w", "type": "nominal"},
           "xOffset": {"field": "g", "scale": {"domain": ["CAC","CAC+AMD"], "paddingInner": 0.25, "paddingOuter": 0.323}},
           "y": {"field": "ev", "type": "quantitative"}}},
        {"data": {"name": "pts"}, "transform": [{"filter": "datum.p == 'IL-10'"}],
         "mark": {"type": "circle", "stroke": "black", "strokeWidth": 1.5, "size": 62, "opacity": 1},
         "encoding": {"x": {"field": "w", "type": "nominal"},
           "xOffset": {"field": "r", "scale": {"type": "band", "domain": ["e1","e2","e3","e4","c1","c2","c3","c4","c5","g1","g2","g3","g4","g5","a1","a2","a3","a4","a5","f1","f2","f3","f4"], "paddingInner": 0, "paddingOuter": 0.375}},
           "y": {"field": "v", "type": "quantitative"},
           "fill": {"field": "g", "type": "nominal", "scale": {"domain": ["CAC","CAC+AMD"], "range": ["white","black"]}, "legend": null}}},
        {"data": {"name": "notes"}, "transform": [{"filter": "datum.p == 'IL-10' && datum.k == 'label'"}],
         "mark": {"type": "text", "align": "left", "baseline": "alphabetic", "dx": -18, "dy": 16, "fontSize": 20},
         "encoding": {"x": {"datum": "0 w", "type": "nominal"}, "y": {"datum": 120, "type": "quantitative"}, "text": {"field": "t"}}}
      ]
    },
    {
      "width": 284, "height": 176,
      "resolve": {"scale": {"xOffset": "independent"}},
      "layer": [
        {"data": {"name": "bars"}, "transform": [{"filter": "datum.p == 'TGF'"}],
         "mark": {"type": "bar", "fill": "white", "stroke": "black", "strokeWidth": 1.6},
         "encoding": {
           "x": {"field": "w", "type": "nominal", "title": null, "scale": {"domain": ["0 w","2 w","6 w","10 w","18 w"], "paddingInner": 0, "paddingOuter": 0.05}},
           "xOffset": {"field": "g", "scale": {"domain": ["CAC","CAC+AMD"], "paddingInner": 0.25, "paddingOuter": 0.323}},
           "y": {"field": "m", "type": "quantitative", "title": "TGF-β (pg/ml)", "scale": {"domain": [0, 400]},
                 "axis": {"values": [0,100,200,300,400], "titleX": -34, "titleY": 80}}
         }},
        {"data": {"name": "bars"}, "transform": [{"filter": "datum.p == 'TGF'"}],
         "mark": {"type": "rule", "color": "black", "strokeWidth": 1.6},
         "encoding": {"x": {"field": "w", "type": "nominal"},
           "xOffset": {"field": "g", "scale": {"domain": ["CAC","CAC+AMD"], "paddingInner": 0.25, "paddingOuter": 0.323}},
           "y": {"field": "lo", "type": "quantitative"}, "y2": {"field": "hi"}}},
        {"data": {"name": "bars"}, "transform": [{"filter": "datum.p == 'TGF'"}, {"fold": ["lo", "hi"], "as": ["end", "ev"]}],
         "mark": {"type": "tick", "color": "black", "size": 11, "thickness": 1.6},
         "encoding": {"x": {"field": "w", "type": "nominal"},
           "xOffset": {"field": "g", "scale": {"domain": ["CAC","CAC+AMD"], "paddingInner": 0.25, "paddingOuter": 0.323}},
           "y": {"field": "ev", "type": "quantitative"}}},
        {"data": {"name": "pts"}, "transform": [{"filter": "datum.p == 'TGF'"}],
         "mark": {"type": "circle", "stroke": "black", "strokeWidth": 1.5, "size": 62, "opacity": 1},
         "encoding": {"x": {"field": "w", "type": "nominal"},
           "xOffset": {"field": "r", "scale": {"type": "band", "domain": ["e1","e2","e3","e4","c1","c2","c3","c4","c5","g1","g2","g3","g4","g5","a1","a2","a3","a4","a5","f1","f2","f3","f4"], "paddingInner": 0, "paddingOuter": 0.375}},
           "y": {"field": "v", "type": "quantitative"},
           "fill": {"field": "g", "type": "nominal", "scale": {"domain": ["CAC","CAC+AMD"], "range": ["white","black"]},
                    "legend": {"orient": "top-right", "offset": 2, "padding": 0, "title": null, "symbolType": "circle", "symbolSize": 60,
                               "symbolStrokeColor": "black", "symbolStrokeWidth": 1.5, "labelFontSize": 19, "labelColor": "black", "labelOffset": 5,
                               "labelExpr": "datum.label == 'CAC+AMD' ? ['CAC+', 'AMD'] : datum.label", "labelBaseline": "middle", "rowPadding": 8}}}},
        {"data": {"name": "notes"}, "transform": [{"filter": "datum.p == 'TGF' && datum.k == 'label'"}],
         "mark": {"type": "text", "align": "left", "baseline": "alphabetic", "dx": -21, "dy": 16, "fontSize": 20},
         "encoding": {"x": {"datum": "0 w", "type": "nominal"}, "y": {"datum": 400, "type": "quantitative"}, "text": {"field": "t"}}}
      ]
    }
  ]
}
